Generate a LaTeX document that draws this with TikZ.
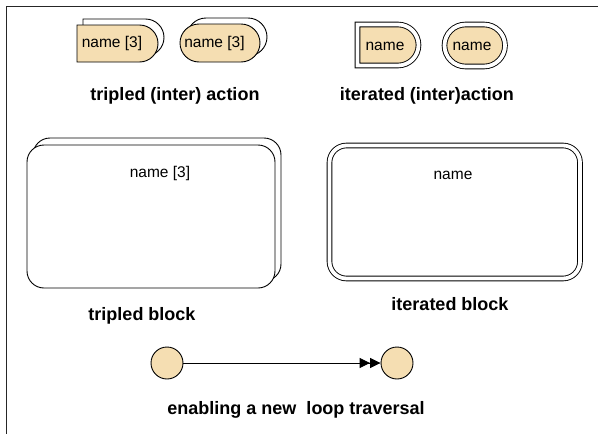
\documentclass[tikz,border=0pt]{standalone}
\usepackage{fontspec}
\setmainfont{Liberation Sans}
\usetikzlibrary{shapes.misc,arrows.meta}
\definecolor{actfill}{RGB}{245,222,178}
\tikzset{
  shapeline/.style={draw=black,line width=0.9pt},
  dact/.style={shapeline,rounded rectangle,rounded rectangle west arc=none,inner sep=0pt},
  ract/.style={shapeline,rounded rectangle,inner sep=0pt},
  iter/.style={double=white,double distance=3.8pt},
  blockbox/.style={shapeline,rectangle,rounded corners=17pt,inner sep=0pt,fill=white},
  nametext/.style={font=\fontsize{15.5}{18}\selectfont,inner sep=0pt},
  caption/.style={font=\bfseries\fontsize{18}{21}\selectfont,inner sep=0pt},
  dot/.style={shapeline,circle,fill=actfill,minimum size=32pt,inner sep=0pt},
  flow/.style={line width=0.9pt,-{Triangle[length=10.5pt,width=10pt]Triangle[length=10.5pt,width=10pt]}}
}
\begin{document}
\begin{tikzpicture}[x=1pt,y=-1pt]
  \useasboundingbox (0,0) rectangle (598,434);
  % outer frame (left and top edges)
  \draw[line width=1.6pt,black!85] (6.5,434) -- (6.5,6.5) -- (598,6.5);

  % tripled (inter) action
  \node[dact,fill=white,minimum width=81pt,minimum height=37pt] (ta1b) at (123.5,37.5) {};
  \node[dact,fill=actfill,minimum width=81pt,minimum height=37pt] (ta1) at (117.5,43.5) {};
  \node[nametext] (ta1t) at (112,43.5) {name [3]};
  \node[ract,fill=white,minimum width=80pt,minimum height=38pt] (ta2b) at (227,37) {};
  \node[ract,fill=actfill,minimum width=80pt,minimum height=38pt] (ta2) at (220,43) {};
  \node[nametext] (ta2t) at (214.5,43.5) {name [3]};
  \node[caption] (tacap) at (175,96) {tripled (inter) action};

  % iterated (inter)action
  \node[dact,iter,fill=actfill,minimum width=61pt,minimum height=41pt] (ia1) at (388,45) {};
  \node[nametext] (ia1t) at (385,46) {name};
  \node[ract,iter,fill=actfill,minimum width=60.5pt,minimum height=42pt] (ia2) at (474.75,45.5) {};
  \node[nametext] (ia2t) at (472,46) {name};
  \node[caption] (iacap) at (427,96) {iterated (inter)action};

  % tripled block
  \node[blockbox,minimum width=248pt,minimum height=143pt] (tbb) at (157,209.5) {};
  \node[blockbox,minimum width=248pt,minimum height=143pt] (tb) at (151,216.5) {};
  \node[nametext] (tbt) at (160,173) {name [3]};
  \node[caption] (tbcap) at (142,316) {tripled block};

  % iterated block
  \node[blockbox,iter,minimum width=250.5pt,minimum height=133pt] (ib) at (454.75,212) {};
  \node[nametext] (ibt) at (453,175) {name};
  \node[caption] (ibcap) at (450,304) {iterated block};

  % loop traversal
  \node[dot] (c1) at (167,363) {};
  \node[dot] (c2) at (397,363) {};
  \draw[flow] (c1) -- (c2);
  \node[caption] (lcap) at (296,410) {enabling a new\ \ loop traversal};
\end{tikzpicture}
\end{document}
